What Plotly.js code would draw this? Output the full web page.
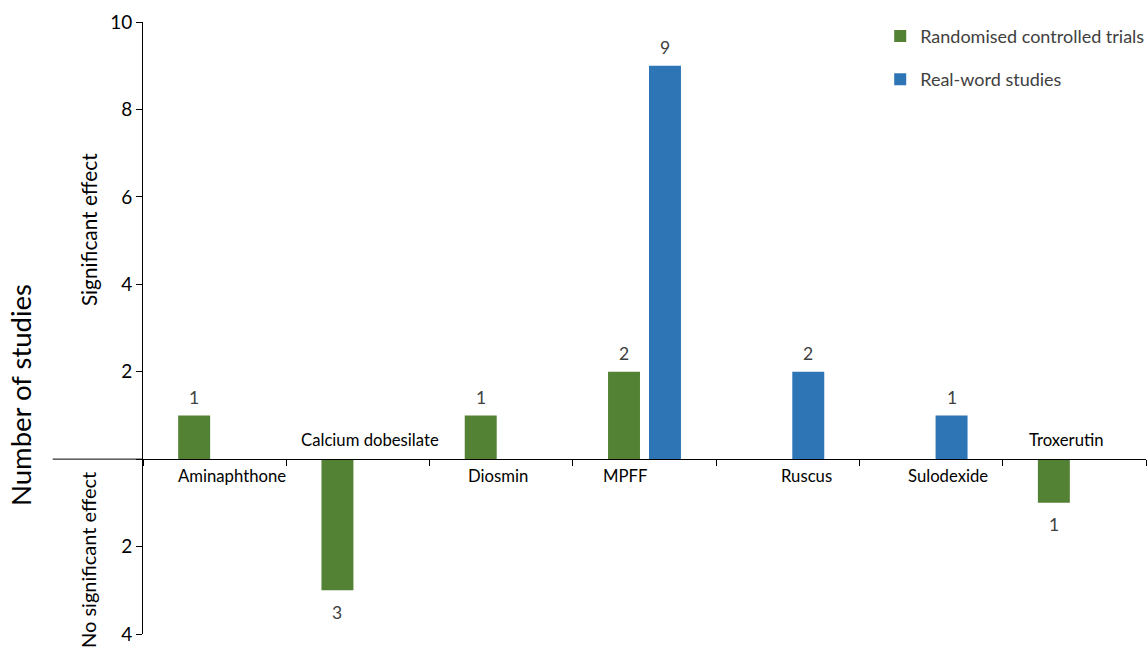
<!DOCTYPE html>
<html>
<head>
<meta charset="utf-8">
<script src="https://cdn.plot.ly/plotly-3.0.1.min.js"></script>
<style>html,body{margin:0;padding:0;background:#fff;}#chart{width:1148px;height:652px;}</style>
</head>
<body>
<div id="chart"></div>
<script>
const categories = ["Aminaphthone", "Calcium dobesilate", "Diosmin", "MPFF", "Ruscus", "Sulodexide", "Troxerutin"];
// positive = significant effect, negative = no significant effect
const rctValues = [1, -3, 1, 2, null, null, -1];
const rwsValues = [null, null, null, 9, 2, 1, null];
const seriesNames = ["Randomised controlled trials", "Real-word studies"];
const yTickVals = [10, 8, 6, 4, 2, 0, -2, -4];
const yTickText = ["10", "8", "6", "4", "2", "", "2", "4"];

// style / layout constants
const FONT = "Lato, 'Open Sans', sans-serif";
const GREEN = "#548235", BLUE = "#2E75B6";
const labelShift = [17, 12, -3, -20, 19, 17, -8];
const barShift = 20.5;

const traces = [
  {type: "bar", name: seriesNames[0], x: categories, y: rctValues, marker: {color: GREEN}, legendgroup: "a", hoverinfo: "x+y"},
  {type: "bar", name: seriesNames[1], x: categories, y: rwsValues, marker: {color: BLUE}, legendgroup: "b", hoverinfo: "x+y"}
];

const annotations = [];
[rctValues, rwsValues].forEach((vals, si) => {
  vals.forEach((v, i) => {
    if (v === null) return;
    annotations.push({
      xref: "x", yref: "y", x: categories[i], y: v, text: String(Math.abs(v)),
      showarrow: false, xshift: si === 0 ? -barShift : barShift,
      yshift: v > 0 ? 18 : -22, yanchor: "middle",
      font: {family: FONT, size: 17.5, color: "#404040"}
    });
  });
});
categories.forEach((c, i) => {
  const neg = (rctValues[i] !== null && rctValues[i] < 0) || (rwsValues[i] !== null && rwsValues[i] < 0);
  annotations.push({
    xref: "x", yref: "y", x: c, y: 0, text: c, showarrow: false,
    xshift: labelShift[i], yanchor: neg ? "bottom" : "top", yshift: neg ? 7 : -5,
    font: {family: FONT, size: 16.7, color: "#000"}
  });
});
annotations.push(
  {xref: "paper", yref: "paper", x: -0.1226, y: 0.3905, text: "Number of studies", textangle: -90, showarrow: false,
   xanchor: "center", yanchor: "middle", font: {family: FONT, size: 27.5, color: "#000"}},
  {xref: "paper", yref: "paper", x: -0.0548, y: 0.660, text: "Significant effect", textangle: -90, showarrow: false,
   xanchor: "center", yanchor: "middle", font: {family: FONT, size: 20.8, color: "#000"}},
  {xref: "paper", yref: "paper", x: -0.0548, y: 0.121, text: "No significant effect", textangle: -90, showarrow: false,
   xanchor: "center", yanchor: "middle", font: {family: FONT, size: 20, color: "#000"}}
);

const layout = {
  width: 1148, height: 652,
  margin: {l: 143, r: 2, t: 22, b: 18, pad: 0, autoexpand: false},
  paper_bgcolor: "#fff", plot_bgcolor: "#fff",
  font: {family: FONT, color: "#000"},
  barmode: "group", bargap: 0.428, bargroupgap: 0.22,
  xaxis: {
    type: "category", anchor: "free", position: 4 / 14,
    showline: true, linecolor: "#000", linewidth: 1,
    ticks: "outside", ticklen: 6, tickcolor: "#000", tickson: "boundaries",
    showticklabels: false, showgrid: false, zeroline: false, fixedrange: true
  },
  yaxis: {
    range: [-4, 10], tickvals: yTickVals, ticktext: yTickText,
    showline: true, linecolor: "#000", linewidth: 1,
    ticks: "outside", ticklen: 6, tickcolor: "#000",
    showgrid: false, zeroline: false,
    tickfont: {family: FONT, size: 19, color: "#000"}
  },
  legend: {
    x: 0.735, xanchor: "left", y: 1.007, yanchor: "top",
    tracegroupgap: 17, bgcolor: "rgba(0,0,0,0)",
    font: {family: FONT, size: 18, color: "#404040"}
  },
  shapes: [
    {type: "line", xref: "paper", yref: "y", x0: -0.09, x1: 0, y0: 0, y1: 0, line: {color: "#000", width: 1}}
  ],
  annotations: annotations
};

Plotly.newPlot("chart", traces, layout, {displayModeBar: false, staticPlot: false});
</script>
</body>
</html>
